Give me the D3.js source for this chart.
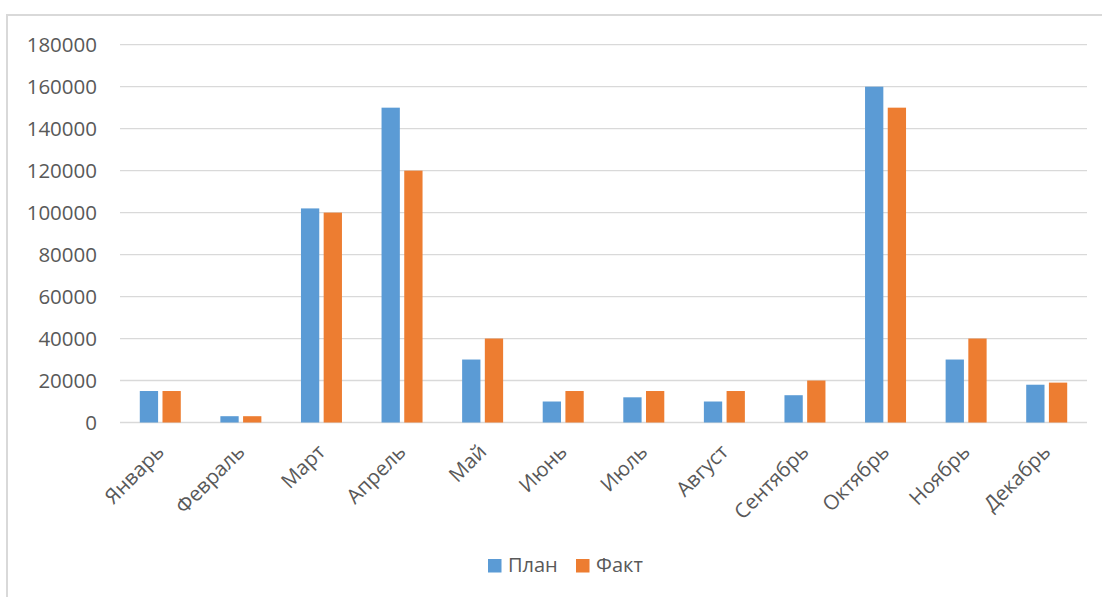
<!DOCTYPE html>
<html>
<head>
<meta charset="utf-8">
<script src="https://cdn.jsdelivr.net/npm/d3@7"></script>
<style>
  body { margin: 0; background: #fff; }
  svg { display: block; font-family: "Open Sans", "Noto Sans", sans-serif; }
</style>
</head>
<body>
<div id="chart"></div>
<script>
// данные
const months = ['Январь', 'Февраль', 'Март', 'Апрель', 'Май', 'Июнь',
                'Июль', 'Август', 'Сентябрь', 'Октябрь', 'Ноябрь', 'Декабрь']
const plan = [15000, 3000, 102000, 150000, 30000, 10000, 12000, 10000, 13000, 160000, 30000, 18000]
const fact = [15000, 3000, 100000, 120000, 40000, 15000, 15000, 15000, 20000, 150000, 40000, 19000]
const seriesNames = ['План', 'Факт']
const yTicks = [0, 20000, 40000, 60000, 80000, 100000, 120000, 140000, 160000, 180000]

const colors = { 'План': '#5B9BD5', 'Факт': '#ED7D31' }

const width = 1102,
      height = 597,
      plotLeft = 120,
      plotRight = 1087,
      plotTop = 44.7,
      plotBottom = 422.5

const svg = d3.select('#chart').append('svg')
              .attr('width', width)
              .attr('height', height)

// рамка диаграммы
svg.append('path')
   .attr('d', `M7,${height} V15 H${width}`)
   .attr('fill', 'none')
   .attr('stroke', '#D9D9D9')
   .attr('stroke-width', 2)

const x = d3.scaleBand().domain(months).range([plotLeft, plotRight])
const xInner = d3.scaleBand().domain(seriesNames).range([0, x.bandwidth()])
                 .paddingInner(0.194).paddingOuter(0.872)
const y = d3.scaleLinear().domain([0, 180000]).range([plotBottom, plotTop])

// сетка
svg.append('g')
   .selectAll('line')
   .data(yTicks).enter()
   .append('line')
   .attr('x1', plotLeft).attr('x2', plotRight)
   .attr('y1', d => y(d)).attr('y2', d => y(d))
   .attr('stroke', '#D9D9D9')
   .attr('stroke-width', 1.3)

// ось Y
const yAxis = d3.axisLeft(y).tickValues(yTicks).tickFormat(d3.format('d'))
                .tickSize(0).tickPadding(23)
svg.append('g')
   .attr('transform', `translate(${plotLeft},0)`)
   .call(yAxis)
   .call(g => g.select('.domain').remove())
   .call(g => g.selectAll('text')
               .attr('fill', '#595959')
               .style('font-size', '20.5px')
               .style('font-family', '"Open Sans", sans-serif'))

// столбцы
const rows = months.map((m, i) => ({ month: m, values: [
  { name: 'План', value: plan[i] },
  { name: 'Факт', value: fact[i] }
] }))

svg.append('g')
   .selectAll('g')
   .data(rows).enter()
   .append('g')
   .attr('transform', d => `translate(${x(d.month)},0)`)
   .selectAll('rect')
   .data(d => d.values).enter()
   .append('rect')
   .attr('x', d => xInner(d.name))
   .attr('width', xInner.bandwidth())
   .attr('y', d => y(d.value))
   .attr('height', d => y(0) - y(d.value))
   .attr('fill', d => colors[d.name])

// подписи месяцев
svg.append('g')
   .selectAll('text')
   .data(months).enter()
   .append('text')
   .attr('transform', d => `translate(${x(d) + x.bandwidth() / 2},448) rotate(-45)`)
   .attr('text-anchor', 'end')
   .attr('dy', '0.35em')
   .attr('fill', '#595959')
   .style('font-size', '20.5px')
   .text(d => d)

// легенда
const legend = svg.append('g')
const items = [{ name: 'План', x: 488 }, { name: 'Факт', x: 576 }]
items.forEach(it => {
  legend.append('rect')
        .attr('x', it.x).attr('y', 559)
        .attr('width', 13.5).attr('height', 13.5)
        .attr('fill', colors[it.name])
  legend.append('text')
        .attr('x', it.x + 20).attr('y', 572)
        .attr('fill', '#595959')
        .style('font-size', '20px')
        .text(it.name)
})
</script>
</body>
</html>
